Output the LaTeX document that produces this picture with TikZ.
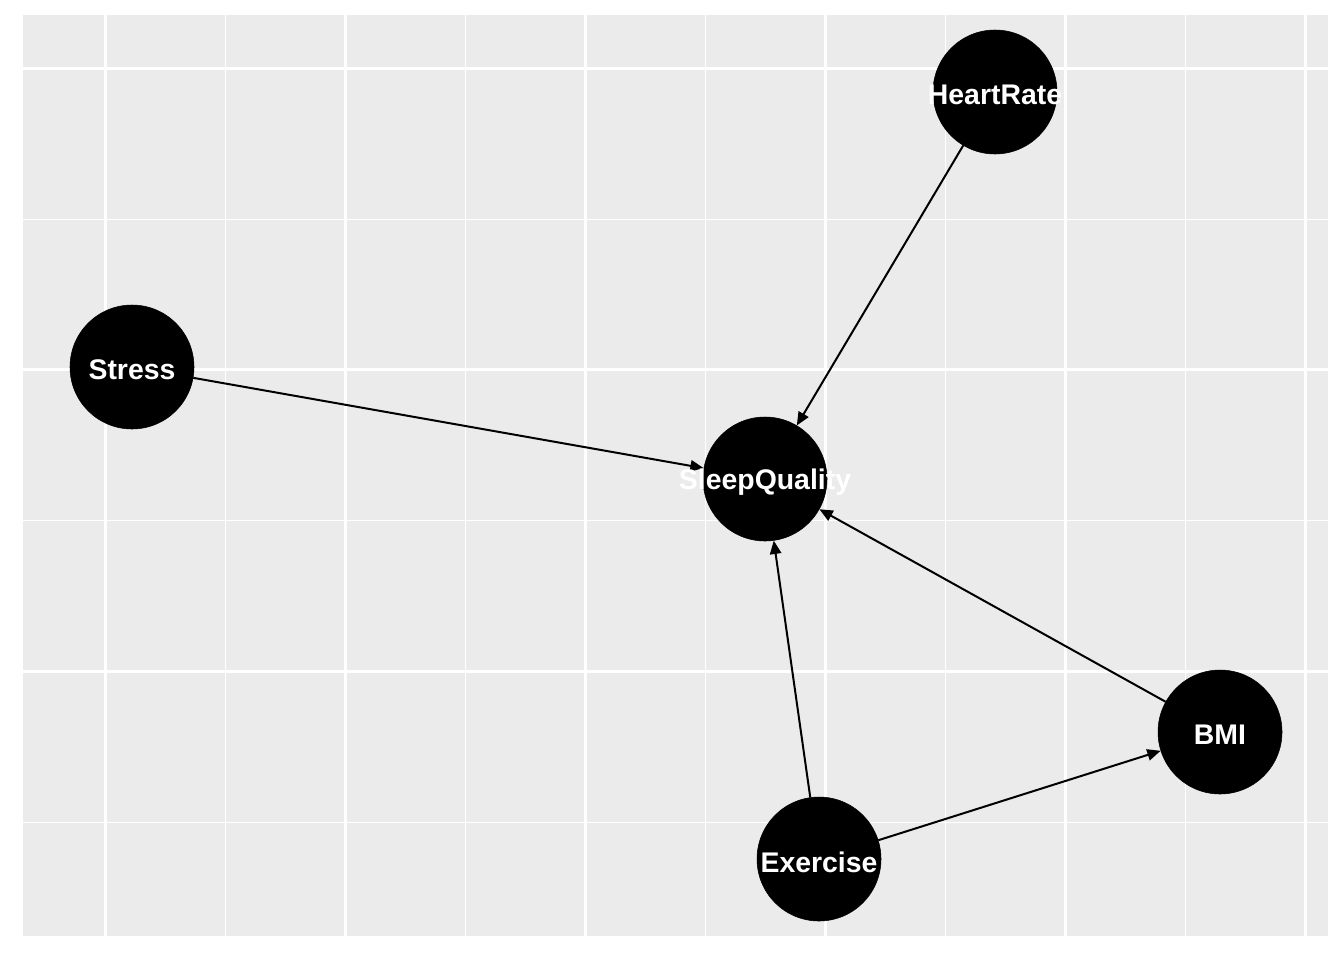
\documentclass[tikz,border=0pt]{standalone}
\usepackage{fontspec}
\setmainfont{Liberation Sans}
\usetikzlibrary{arrows.meta}
\definecolor{panelgrey}{HTML}{EBEBEB}
\tikzset{
  x=0.75pt, y=-0.75pt,
  vnode/.style={circle, fill=black, draw=black, minimum size=124*0.75pt, inner sep=0pt},
  vlabel/.style={text=white, inner sep=0pt, font=\fontsize{21.3}{21.3}\selectfont\bfseries},
  edge/.style={line width=1.5pt, draw=black, -{Triangle[length=10pt, width=8.5pt]}},
  majorgrid/.style={draw=white, line width=2.2pt},
  minorgrid/.style={draw=white, line width=0.7pt},
}
\begin{document}
\begin{tikzpicture}
  % page and panel
  \fill[white] (0,0) rectangle (1344,960);
  \useasboundingbox (0,0) rectangle (1344,960);
  \fill[panelgrey] (23,15) rectangle (1328,936);
  % minor grid
  \foreach \gx in {225,465,705,945,1185} \draw[minorgrid] (\gx,15) -- (\gx,936);
  \foreach \gy in {219,520.5,822} \draw[minorgrid] (23,\gy) -- (1328,\gy);
  % major grid
  \foreach \gx in {105.5,345.5,585.5,825.5,1065.5,1305.5} \draw[majorgrid] (\gx,15) -- (\gx,936);
  \foreach \gy in {68.3,369.8,671.3} \draw[majorgrid] (23,\gy) -- (1328,\gy);

  % node positions
  \coordinate (hr) at (995,92);
  \coordinate (st) at (132,367);
  \coordinate (sq) at (765,479);
  \coordinate (bm) at (1220,732);
  \coordinate (ex) at (819,859);

  \node[vnode] (HeartRate) at (hr) {};
  \node[vnode] (Stress) at (st) {};
  \node[vnode] (SleepQuality) at (sq) {};
  \node[vnode] (BMI) at (bm) {};
  \node[vnode] (Exercise) at (ex) {};

  % edges
  \draw[edge] (HeartRate) -- (SleepQuality);
  \draw[edge] (Stress) -- (SleepQuality);
  \draw[edge] (BMI) -- (SleepQuality);
  \draw[edge] (Exercise) -- (SleepQuality);
  \draw[edge] (Exercise) -- (BMI);

  % labels
  \foreach \n in {HeartRate,Stress,SleepQuality,BMI,Exercise}
    \node[vlabel] at ([yshift=-2.2pt]\n.center) {\n};
\end{tikzpicture}
\end{document}
